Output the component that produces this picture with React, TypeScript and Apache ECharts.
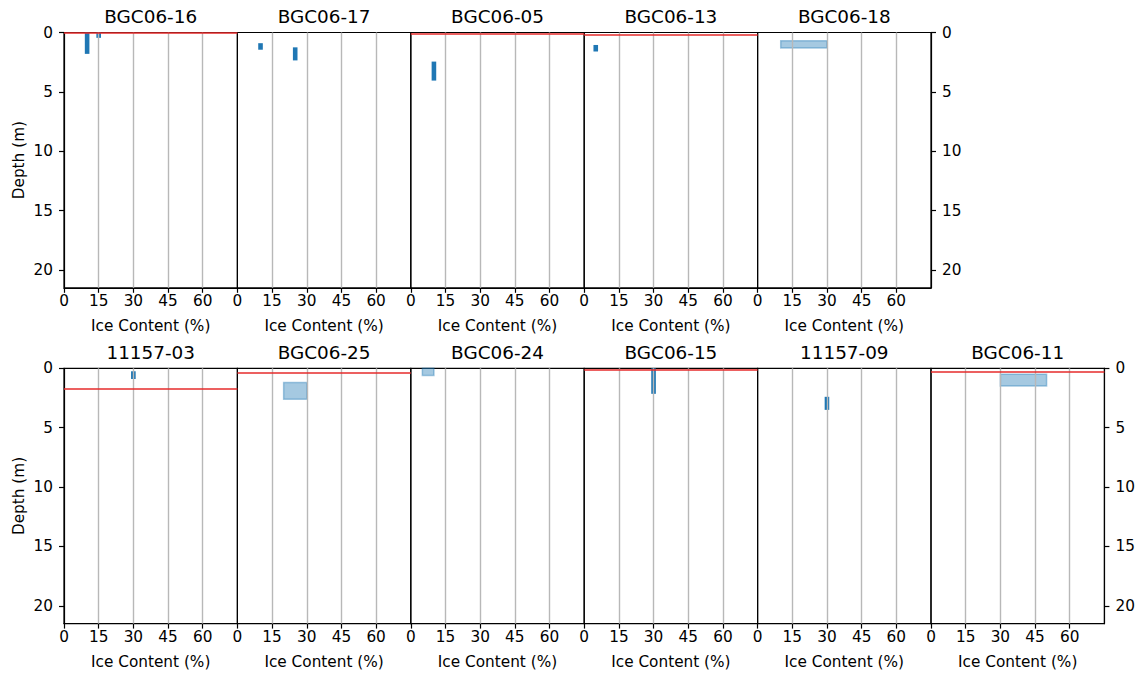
import React, { useEffect, useRef } from "react";
import * as echarts from "echarts";

// ---- data ----
const panelNames = [
  "BGC06-16", "BGC06-17", "BGC06-05", "BGC06-13", "BGC06-18",
  "11157-03", "BGC06-25", "BGC06-24", "BGC06-15", "11157-09", "BGC06-11",
];
const panelRow = [0, 0, 0, 0, 0, 1, 1, 1, 1, 1, 1];
const panelCol = [0, 1, 2, 3, 4, 0, 1, 2, 3, 4, 5];
// red line depth (m) per panel, null = none
const waterTable = [0.05, null, 0.1, 0.15, null, 1.7, 0.4, null, 0.1, null, 0.3];

// point samples (dark bars): panel index, ice content, depth top, depth bottom
const samplePanel = [0, 0, 1, 1, 2, 3, 5, 8, 9];
const sampleIce = [10, 15, 10, 25, 10, 5, 30, 30, 30];
const sampleTop = [0, 0, 0.9, 1.25, 2.45, 1.05, 0.25, 0, 2.4];
const sampleBottom = [1.8, 0.45, 1.45, 2.35, 4.05, 1.6, 0.9, 2.15, 3.5];

// range estimates (light boxes): panel index, ice min, ice max, depth top, depth bottom
const rangePanel = [4, 6, 7, 10];
const rangeMin = [10, 20, 5, 30];
const rangeMax = [30, 30, 10, 50];
const rangeTop = [0.7, 1.2, 0, 0.5];
const rangeBottom = [1.3, 2.6, 0.6, 1.5];

const xTicks = [0, 15, 30, 45, 60];
const xGridLines = [15, 30, 45, 60];
const xMax = 75;
const yMax = 21.5;

// ---- layout / style ----
const FONT = "DejaVu Sans";
const TICK_FS = 15.3;
const TITLE_FS = 18.4;
const LEFT0 = 64;
const PANEL_W = 173.4;
const ROW_TOP = [32.5, 368.3];
const PANEL_H = 255.3;
const TITLE_TOP = [7, 343];

function buildOption() {
  const grids: any[] = [];
  const xAxes: any[] = [];
  const yAxes: any[] = [];
  const titles: any[] = [];
  const series: any[] = [];

  panelNames.forEach((name, i) => {
    const row = panelRow[i];
    const col = panelCol[i];
    const rowCount = panelRow.filter((r) => r === row).length;
    const isFirst = col === 0;
    const isLast = col === rowCount - 1;
    const left = LEFT0 + col * PANEL_W;
    const top = ROW_TOP[row];
    const showY = isFirst || isLast;

    grids.push({
      left, top, width: PANEL_W, height: PANEL_H,
      show: true, borderColor: "#000", borderWidth: 1.2,
      backgroundColor: "transparent",
    });
    titles.push({
      text: name,
      left: left + PANEL_W / 2,
      top: TITLE_TOP[row],
      textAlign: "center",
      padding: 0,
      textStyle: { fontFamily: FONT, fontSize: TITLE_FS, fontWeight: "normal", color: "#000" },
    });
    xAxes.push({
      type: "value", gridIndex: i, min: 0, max: xMax, interval: 15,
      axisLine: { show: true, onZero: false, lineStyle: { color: "#000", width: 1.2 } },
      axisTick: { show: true, length: 5, customValues: xTicks, lineStyle: { color: "#000", width: 1.2 } },
      axisLabel: {
        customValues: xTicks,
        fontFamily: FONT, fontSize: TICK_FS, color: "#000", margin: 6,
      },
      splitLine: { show: false },
      name: "Ice Content (%)", nameLocation: "middle", nameGap: 31,
      nameTextStyle: { fontFamily: FONT, fontSize: TICK_FS, color: "#000" },
    });
    yAxes.push({
      type: "value", gridIndex: i, inverse: true, min: 0, max: yMax, interval: 5,
      position: isFirst ? "left" : "right",
      axisLine: { show: showY, onZero: false, lineStyle: { color: "#000", width: 1.2 } },
      axisTick: {
        show: showY, inside: false, length: 5,
        lineStyle: { color: "#000", width: 1.2 },
      },
      axisLabel: {
        show: showY, showMaxLabel: false,
        fontFamily: FONT, fontSize: TICK_FS, color: "#000", margin: 11,
      },
      splitLine: { show: false },
      name: isFirst ? "Depth (m)" : "",
      nameLocation: "middle", nameGap: 38, nameRotate: 90,
      nameTextStyle: { fontFamily: FONT, fontSize: TICK_FS, color: "#000" },
    });

    // gridlines
    series.push({
      type: "line", xAxisIndex: i, yAxisIndex: i, data: [], silent: true, z: 1,
      markLine: {
        silent: true, symbol: "none", label: { show: false }, animation: false,
        data: xGridLines.map((v) => ({
          xAxis: v, lineStyle: { color: "#b8b8b8", width: 1.4, type: "solid" },
        })),
      },
    });

    // point samples
    const sData: number[][] = [];
    samplePanel.forEach((p, k) => {
      if (p === i) sData.push([sampleIce[k], sampleTop[k], sampleBottom[k]]);
    });
    if (sData.length) {
      series.push({
        type: "custom", xAxisIndex: i, yAxisIndex: i, silent: true, z: 3,
        data: sData,
        renderItem: (_p: any, api: any) => {
          const a = api.coord([api.value(0), api.value(1)]);
          const b = api.coord([api.value(0), api.value(2)]);
          return {
            type: "rect",
            shape: { x: a[0] - 2.3, y: a[1], width: 4.6, height: b[1] - a[1] },
            style: { fill: "#1f77b4" },
          };
        },
      });
    }

    // range boxes
    const rData: number[][] = [];
    rangePanel.forEach((p, k) => {
      if (p === i) rData.push([rangeMin[k], rangeMax[k], rangeTop[k], rangeBottom[k]]);
    });
    if (rData.length) {
      series.push({
        type: "custom", xAxisIndex: i, yAxisIndex: i, silent: true, z: 2,
        data: rData,
        renderItem: (_p: any, api: any) => {
          const a = api.coord([api.value(0), api.value(2)]);
          const b = api.coord([api.value(1), api.value(3)]);
          return {
            type: "rect",
            shape: { x: a[0], y: a[1], width: b[0] - a[0], height: b[1] - a[1] },
            style: { fill: "rgba(31,119,180,0.4)", stroke: "rgba(31,119,180,0.4)", lineWidth: 1.5 },
          };
        },
      });
    }

    // red line
    const wt = waterTable[i];
    if (wt !== null) {
      series.push({
        type: "line", xAxisIndex: i, yAxisIndex: i, data: [], silent: true, z: 4,
        markLine: {
          silent: true, symbol: "none", label: { show: false }, animation: false,
          data: [{ yAxis: wt, lineStyle: { color: "#e62b2b", width: 1.6, type: "solid" } }],
        },
      });
    }
  });

  return {
    animation: false,
    backgroundColor: "#fff",
    title: titles,
    grid: grids,
    xAxis: xAxes,
    yAxis: yAxes,
    series,
  };
}

export default function App() {
  const ref = useRef<HTMLDivElement>(null);
  useEffect(() => {
    if (!ref.current) return;
    const chart = echarts.init(ref.current, null, { renderer: "svg" });
    chart.setOption(buildOption() as any);
    return () => chart.dispose();
  }, []);
  return (
    <div
      ref={ref}
      style={{ position: "absolute", left: 0, top: 0, width: 1140, height: 675, background: "#fff" }}
    />
  );
}
